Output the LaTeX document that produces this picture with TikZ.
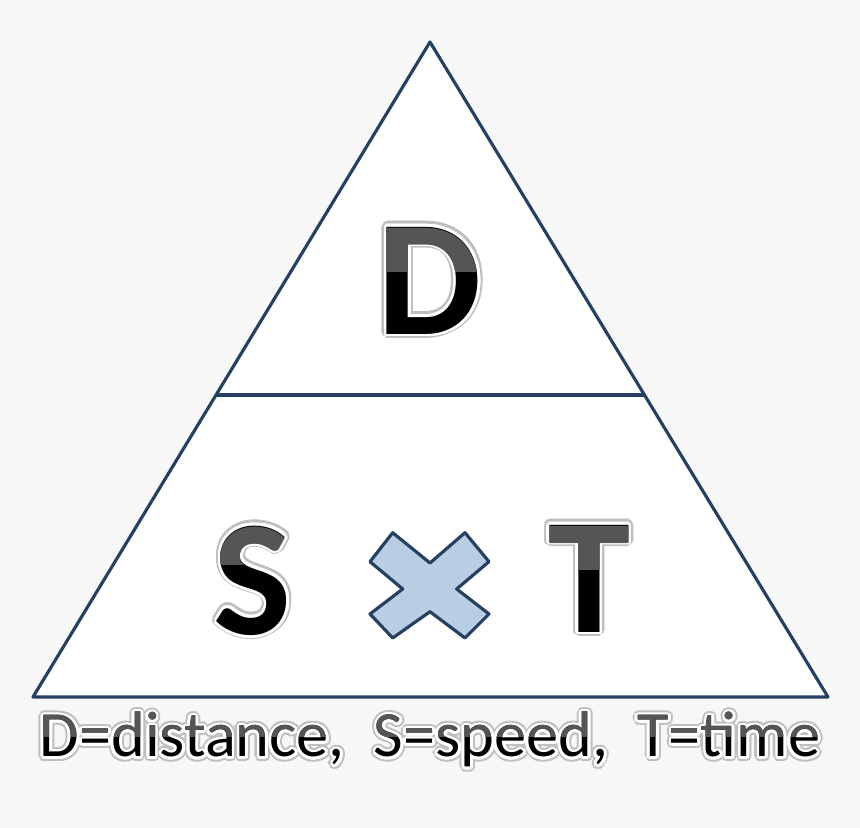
\documentclass[tikz,border=0pt]{standalone}
\usepackage{fontspec}
\setmainfont{Carlito}
\usepackage{contour}
\usepackage{tikz}
\usetikzlibrary{calc}
\definecolor{pagegray}{RGB}{247,247,247}
\definecolor{triblue}{RGB}{38,64,98}
\definecolor{crossfill}{RGB}{185,205,228}
\definecolor{topgray}{RGB}{85,85,85}
\newcommand{\halotext}[1]{\contourlength{1.4pt}\contour{black!25}{#1}}
\newcommand{\rimtext}[1]{\contourlength{0.8pt}\contour{white}{#1}}

\begin{document}
\begin{tikzpicture}[
  x=0.01cm, y=-0.01cm,
  edge/.style={draw=triblue, line width=0.9pt, line join=round},
  bigletter/.style={font=\fontsize{47}{47}\selectfont\bfseries, inner sep=0pt},
  caption/.style={font=\fontsize{18.3}{18.3}\selectfont, inner sep=0pt}
]
% page
\fill[pagegray] (0,0) rectangle (860,828);
\useasboundingbox (0,0) rectangle (860,828);

% triangle and divider
\coordinate (apex) at (430,42);
\coordinate (bl) at (33,697);
\coordinate (br) at (828,697);
\filldraw[edge, fill=white] (apex) -- (br) -- (bl) -- cycle;
\coordinate (ml) at ($(apex)!0.539!(bl)$);
\coordinate (mr) at ($(apex)!0.539!(br)$);
\draw[edge] (ml) -- (mr);

% letters
\node[bigletter] (D) at (430,282) {\halotext{D}};
\node[bigletter] (S) at (253,582) {\halotext{S}};
\node[bigletter] (T) at (589,580) {\halotext{T}};
\node[bigletter] at (D.center) {\rimtext{D}};
\node[bigletter] at (S.center) {\rimtext{S}};
\node[bigletter] at (T.center) {\rimtext{T}};
\begin{scope}
  \clip (D.north west) rectangle ([yshift=3pt]D.east);
  \node[bigletter, text=topgray] at (D.center) {D};
\end{scope}
\begin{scope}
  \clip (S.north west) rectangle ([yshift=5pt]S.east);
  \node[bigletter, text=topgray] at (S.center) {S};
\end{scope}
\begin{scope}
  \clip (T.north west) rectangle ([yshift=3pt]T.east);
  \node[bigletter, text=topgray] at (T.center) {T};
\end{scope}

% times sign
\filldraw[edge, fill=crossfill]
  (392.7,532.7) -- (430,563) -- (465,532.7) -- (489,561.7) -- (456.7,589)
  -- (489,614) -- (465,638) -- (430,611.7) -- (392.7,638) -- (370,614)
  -- (402.7,589) -- (370,561.7) -- cycle;

% legend
\node[caption, anchor=base] (legend) at (430,757)
  {\halotext{D=distance,\ \ S=speed,\ \ T=time}};
\node[caption, anchor=base] at (legend.base)
  {\rimtext{D=distance,\ \ S=speed,\ \ T=time}};
\begin{scope}
  \clip (legend.north west) rectangle (legend.east |- 0,737);
  \node[caption, anchor=base, text=topgray] at (legend.base) {D=distance,\ \ S=speed,\ \ T=time};
\end{scope}
\end{tikzpicture}
\end{document}
